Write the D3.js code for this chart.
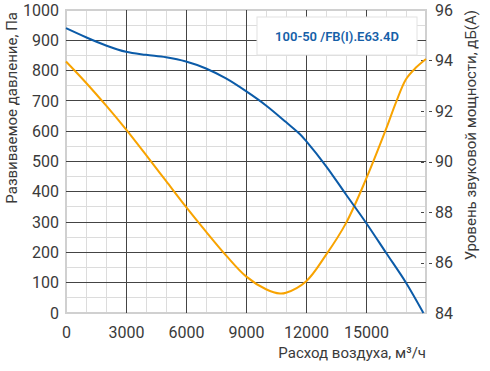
<!DOCTYPE html>
<html>
<head>
<meta charset="utf-8">
<script src="https://cdn.jsdelivr.net/npm/d3@7"></script>
<style>
  body { margin: 0; background: #fff; }
  text { font-family: Roboto, "Noto Sans", sans-serif; fill: #3a3a3a; }
</style>
</head>
<body>
<svg id="chart" width="490" height="371"></svg>
<script>
// air flow, m3/h
const flowTicks = [0, 3000, 6000, 9000, 12000, 15000];
const pressureTicks = [0, 100, 200, 300, 400, 500, 600, 700, 800, 900, 1000];
const soundTicks = [84, 86, 88, 90, 92, 94, 96];

// pressure curve (Pa)
const pressureFlow = [0, 1000, 2000, 3000, 4000, 5000, 6000, 7000, 8000, 9000, 10000, 11000, 11700, 12000, 13000, 14000, 15000, 16000, 17000, 17870];
const pressure = [940, 910, 883, 862, 852, 844, 830, 807, 774, 732, 685, 630, 590, 568, 485, 391, 298, 199, 100, 0];

// sound power curve, dB(A)
const soundFlow = [0, 1000, 2000, 3000, 4000, 5000, 6000, 7000, 8000, 9000, 10000, 10700, 11000, 12000, 13000, 14000, 15000, 16000, 16500, 17000, 17500, 18000];
const sound = [93.96, 93.12, 92.22, 91.27, 90.26, 89.23, 88.20, 87.22, 86.28, 85.45, 84.94, 84.77, 84.80, 85.25, 86.30, 87.56, 89.30, 91.28, 92.34, 93.26, 93.72, 94.06];

const modelName = '100-50 /FB(I).E63.4D';

const margin = { top: 10, right: 64, bottom: 58, left: 66 };
const width = 490, height = 371;
const svg = d3.select('#chart');

const x = d3.scaleLinear().domain([0, 18000]).range([margin.left, width - margin.right]);
const y = d3.scaleLinear().domain([0, 1000]).range([height - margin.bottom, margin.top]);
const y2 = d3.scaleLinear().domain([84, 96]).range([height - margin.bottom, margin.top]);

const grid = svg.append('g').attr('shape-rendering', 'crispEdges');

// minor grid
grid.selectAll('.vminor').data(d3.range(1000, 18000, 1000))
  .enter().append('line')
  .attr('x1', d => x(d)).attr('x2', d => x(d))
  .attr('y1', y(0)).attr('y2', y(1000))
  .attr('stroke', '#dcdcdc');
grid.selectAll('.hminor').data(d3.range(50, 1000, 100))
  .enter().append('line')
  .attr('x1', x(0)).attr('x2', x(18000))
  .attr('y1', d => y(d)).attr('y2', d => y(d))
  .attr('stroke', '#dcdcdc');

// frame
grid.append('rect')
  .attr('x', x(0)).attr('y', y(1000))
  .attr('width', x(18000) - x(0)).attr('height', y(0) - y(1000))
  .attr('fill', 'none').attr('stroke', '#d0d0d0').attr('stroke-width', 1.5);

// major grid
grid.selectAll('.vmajor').data(flowTicks.filter(d => d > 0))
  .enter().append('line')
  .attr('x1', d => x(d)).attr('x2', d => x(d))
  .attr('y1', y(0)).attr('y2', y(1000))
  .attr('stroke', '#444');
grid.selectAll('.hmajor').data(pressureTicks.filter(d => d > 0 && d < 1000))
  .enter().append('line')
  .attr('x1', x(0)).attr('x2', x(18000))
  .attr('y1', d => y(d)).attr('y2', d => y(d))
  .attr('stroke', '#444');

// axes
const xAxis = svg.append('g')
  .attr('transform', `translate(0,${y(0)})`)
  .call(d3.axisBottom(x).tickValues(flowTicks).tickSize(0).tickPadding(14).tickFormat(d3.format('d')));
const yAxis = svg.append('g')
  .attr('transform', `translate(${x(0)},0)`)
  .call(d3.axisLeft(y).tickValues(pressureTicks).tickSize(0).tickPadding(7).tickFormat(d3.format('d')));
const y2Axis = svg.append('g')
  .attr('transform', `translate(${x(18000)},0)`)
  .call(d3.axisRight(y2).tickValues(soundTicks).tickSize(0).tickPadding(9));

[xAxis, yAxis, y2Axis].forEach(a => {
  a.select('.domain').remove();
  a.selectAll('text').attr('font-size', 16).attr('fill', '#3a3a3a')
    .attr('font-family', 'Roboto, sans-serif');
});

// dashed ticks on the right axis
svg.selectAll('.rtick').data(soundTicks.filter(d => d > 84 && d < 96))
  .enter().append('line')
  .attr('x1', x(18000) - 5).attr('x2', x(18000) + 6)
  .attr('y1', d => Math.round(y2(d)) + 0.5).attr('y2', d => Math.round(y2(d)) + 0.5)
  .attr('stroke', '#444').attr('stroke-dasharray', '3,5');

// curves
const line = d3.line().curve(d3.curveCatmullRom.alpha(0.5));
svg.append('path')
  .attr('d', line(soundFlow.map((f, i) => [x(f), y2(sound[i])])))
  .attr('fill', 'none').attr('stroke', '#f8a300').attr('stroke-width', 2);
svg.append('path')
  .attr('d', line(pressureFlow.map((f, i) => [x(f), y(pressure[i])])))
  .attr('fill', 'none').attr('stroke', '#0b5ba8').attr('stroke-width', 2);

// model label box
svg.append('rect')
  .attr('x', 257).attr('y', 17).attr('width', 160).attr('height', 38)
  .attr('fill', '#fff').attr('stroke', '#e2e2e2');
svg.append('text')
  .attr('x', 337).attr('y', 41)
  .attr('text-anchor', 'middle')
  .attr('font-size', 13).attr('font-weight', 600)
  .style('fill', '#1560a8')
  .text(modelName);

// axis titles
svg.append('text')
  .attr('transform', `translate(17,${margin.top + 2}) rotate(-90)`)
  .attr('text-anchor', 'end')
  .attr('font-size', 15)
  .text('Развиваемое давление, Па');
svg.append('text')
  .attr('transform', `translate(476,${margin.top}) rotate(-90)`)
  .attr('text-anchor', 'end')
  .attr('font-size', 15)
  .text('Уровень звуковой мощности, дБ(А)');
svg.append('text')
  .attr('x', x(18000)).attr('y', 358)
  .attr('text-anchor', 'end')
  .attr('font-size', 15)
  .text('Расход воздуха, м³/ч');
</script>
</body>
</html>
